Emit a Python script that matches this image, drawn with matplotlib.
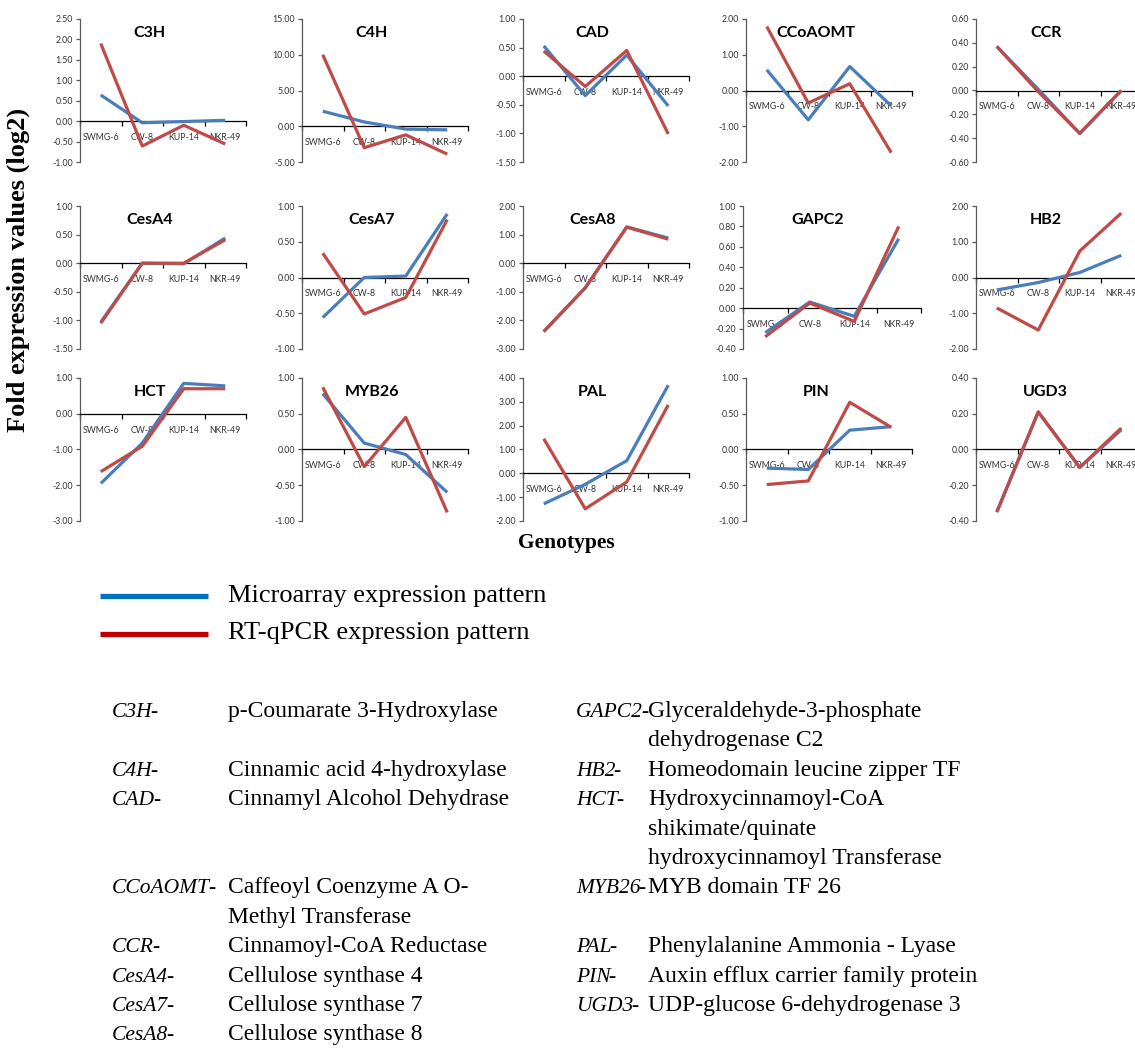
import matplotlib
matplotlib.use("Agg")
import matplotlib.pyplot as plt
import numpy as np

# genotypes on the x axis of every panel
genotypes = ["SWMG-6", "CW-8", "KUP-14", "NKR-49"]

genes = ["C3H", "C4H", "CAD", "CCoAOMT", "CCR",
         "CesA4", "CesA7", "CesA8", "GAPC2", "HB2",
         "HCT", "MYB26", "PAL", "PIN", "UGD3"]

# log2 fold expression, microarray
microarray = [
    [0.64, -0.04, -0.01, 0.02],
    [2.1, 0.6, -0.4, -0.5],
    [0.53, -0.34, 0.37, -0.52],
    [0.58, -0.82, 0.67, -0.43],
    [0.37, 0.01, -0.36, 0.0],
    [-1.03, 0.0, -0.01, 0.44],
    [-0.56, 0.0, 0.02, 0.89],
    [-2.39, -0.86, 1.27, 0.88],
    [-0.24, 0.06, -0.08, 0.68],
    [-0.35, -0.14, 0.14, 0.62],
    [-1.95, -0.82, 0.85, 0.78],
    [0.78, 0.09, -0.07, -0.60],
    [-1.28, -0.46, 0.53, 3.70],
    [-0.26, -0.28, 0.27, 0.32],
    [-0.35, 0.21, -0.10, 0.11],
]

# log2 fold expression, RT-qPCR
rtqpcr = [
    [1.90, -0.61, -0.10, -0.56],
    [10.0, -3.0, -1.2, -3.9],
    [0.44, -0.18, 0.45, -1.01],
    [1.79, -0.35, 0.19, -1.74],
    [0.37, -0.01, -0.36, 0.0],
    [-1.05, 0.0, 0.0, 0.41],
    [0.34, -0.51, -0.28, 0.81],
    [-2.39, -0.86, 1.26, 0.84],
    [-0.28, 0.05, -0.13, 0.80],
    [-0.85, -1.47, 0.74, 1.80],
    [-1.62, -0.91, 0.70, 0.70],
    [0.87, -0.24, 0.45, -0.88],
    [1.45, -1.49, -0.36, 2.87],
    [-0.49, -0.44, 0.66, 0.31],
    [-0.35, 0.21, -0.10, 0.12],
]

# y axis range and step for each panel
y_min = [-1.0, -5, -1.5, -2, -0.6, -1.5, -1.0, -3, -0.4, -2, -3, -1.0, -2, -1.0, -0.4]
y_max = [2.5, 15, 1.0, 2, 0.6, 1.0, 1.0, 2, 1.0, 2, 1, 1.0, 4, 1.0, 0.4]
y_step = [0.5, 5, 0.5, 1, 0.2, 0.5, 0.5, 1, 0.2, 1, 1, 0.5, 1, 0.5, 0.2]

legend_labels = ["Microarray expression pattern", "RT-qPCR expression pattern"]

# abbreviation table under the legend
left_abbr = ["C3H", "C4H", "CAD", "CCoAOMT", "", "CCR", "CesA4", "CesA7", "CesA8"]
left_desc = ["p-Coumarate 3-Hydroxylase", "Cinnamic acid 4-hydroxylase",
             "Cinnamyl Alcohol Dehydrase", "Caffeoyl Coenzyme A O-",
             "Methyl Transferase", "Cinnamoyl-CoA Reductase",
             "Cellulose synthase 4", "Cellulose synthase 7", "Cellulose synthase 8"]
left_rows = [0, 2, 3, 6, 7, 8, 9, 10, 11]

right_abbr = ["GAPC2", "", "HB2", "HCT", "", "", "MYB26", "PAL", "PIN", "UGD3"]
right_desc = ["Glyceraldehyde-3-phosphate", "dehydrogenase C2",
              "Homeodomain leucine zipper TF", "Hydroxycinnamoyl-CoA",
              "shikimate/quinate", "hydroxycinnamoyl Transferase",
              "MYB domain TF 26", "Phenylalanine Ammonia - Lyase",
              "Auxin efflux carrier family protein", "UDP-glucose 6-dehydrogenase 3"]
right_rows = [0, 1, 2, 3, 4, 5, 6, 8, 9, 10]

BLUE = "#4A7EBB"
RED = "#BE4B48"

W, H = 1135, 1052
fig = plt.figure(figsize=(W / 100, H / 100), dpi=100)

col_left = [80, 302, 523, 746, 976]
row_top = [19, 206, 378]
ax_w, ax_h = 166, 143

x = np.arange(len(genotypes))

for i, gene in enumerate(genes):
    r, c = divmod(i, 5)
    w = ax_w + (12 if gene == "GAPC2" else 0)
    left = col_left[c] - (3 if gene == "GAPC2" else 0)
    ax = fig.add_axes([left / W, 1 - (row_top[r] + ax_h) / H, w / W, ax_h / H])

    ax.plot(x, microarray[i], color=BLUE, lw=2.3, solid_capstyle="butt", clip_on=False, zorder=3)
    ax.plot(x, rtqpcr[i], color=RED, lw=2.3, solid_capstyle="butt", clip_on=False, zorder=4)

    ax.set_xlim(-0.5, len(genotypes) - 0.5)
    ax.set_ylim(y_min[i], y_max[i])
    ax.set_yticks(np.arange(y_min[i], y_max[i] + y_step[i] / 2, y_step[i]))
    ax.yaxis.set_major_formatter(matplotlib.ticker.FormatStrFormatter("%.2f"))

    # category axis crosses at zero, ticks between categories
    ax.spines["top"].set_visible(False)
    ax.spines["right"].set_visible(False)
    ax.spines["bottom"].set_position(("data", 0))
    ax.spines["bottom"].set_color("black")
    ax.spines["bottom"].set_linewidth(0.9)
    ax.spines["left"].set_color("#5a5a5a")
    ax.spines["left"].set_linewidth(0.9)
    ax.set_xticks(np.arange(-0.5, len(genotypes), 1.0))
    ax.set_xticklabels([])
    ax.set_xticks(x, minor=True)
    ax.set_xticklabels(genotypes, minor=True)
    ax.tick_params(axis="x", which="major", direction="out", length=3.5, width=0.9)
    ax.tick_params(axis="x", which="minor", length=0, pad=8.5, labelsize=6.3, labelcolor="#333333")
    ax.tick_params(axis="y", direction="out", length=3, width=0.9, color="#5a5a5a",
                   labelsize=6.3, labelcolor="#333333", pad=2)
    for lab in ax.get_xticklabels(minor=True) + ax.get_yticklabels():
        lab.set_family("Lato")
    ax.patch.set_alpha(0)

    ax.text(0.42, 0.905, gene, transform=ax.transAxes, ha="center", va="center",
            fontsize=11.5, fontweight="bold", family="Lato")

fig.text(18 / W, 1 - 270 / H, "Fold expression values (log2)", rotation=90,
         ha="center", va="center", fontsize=19, fontweight="bold", family="Liberation Serif")
fig.text(566 / W, 1 - 543 / H, "Genotypes", ha="center", va="center",
         fontsize=15.5, fontweight="bold", family="Liberation Serif")

# legend drawn by hand below the panels
lax = fig.add_axes([0, 0, 1, 1])
lax.set_xlim(0, W)
lax.set_ylim(H, 0)
lax.axis("off")
for k, (label, col) in enumerate(zip(legend_labels, ["#0070C0", "#C00000"])):
    yy = 596 + 37.5 * k
    lax.plot([100, 208], [yy, yy], color=col, lw=3.8, solid_capstyle="butt")
    lax.text(228, yy, label, ha="left", va="center", fontsize=19, family="Liberation Serif")

# abbreviation table
line_h = 29.4
top_y = 711 + 6  # baseline sits a little below the row centre
serif = "Liberation Serif"
fs = 17
fs_abbr = 15.5

def table_column(abbrs, descs, rows, x_abbr, x_desc):
    for a, d, rr in zip(abbrs, descs, rows):
        yy = top_y + rr * line_h
        if a:
            t = lax.text(x_abbr, yy, a, ha="left", va="baseline", fontsize=fs_abbr,
                         family=serif, style="italic")
            lax.annotate("-", xy=(1, 0), xycoords=t, xytext=(-1.5, 0),
                         textcoords="offset points", ha="left", va="bottom",
                         fontsize=fs_abbr, family=serif)
        lax.text(x_desc, yy, d, ha="left", va="baseline", fontsize=fs, family=serif)

table_column(left_abbr, left_desc, left_rows, 112, 228)
table_column(right_abbr, right_desc, right_rows, 576, 648)

fig.savefig("out.png", dpi=100)
